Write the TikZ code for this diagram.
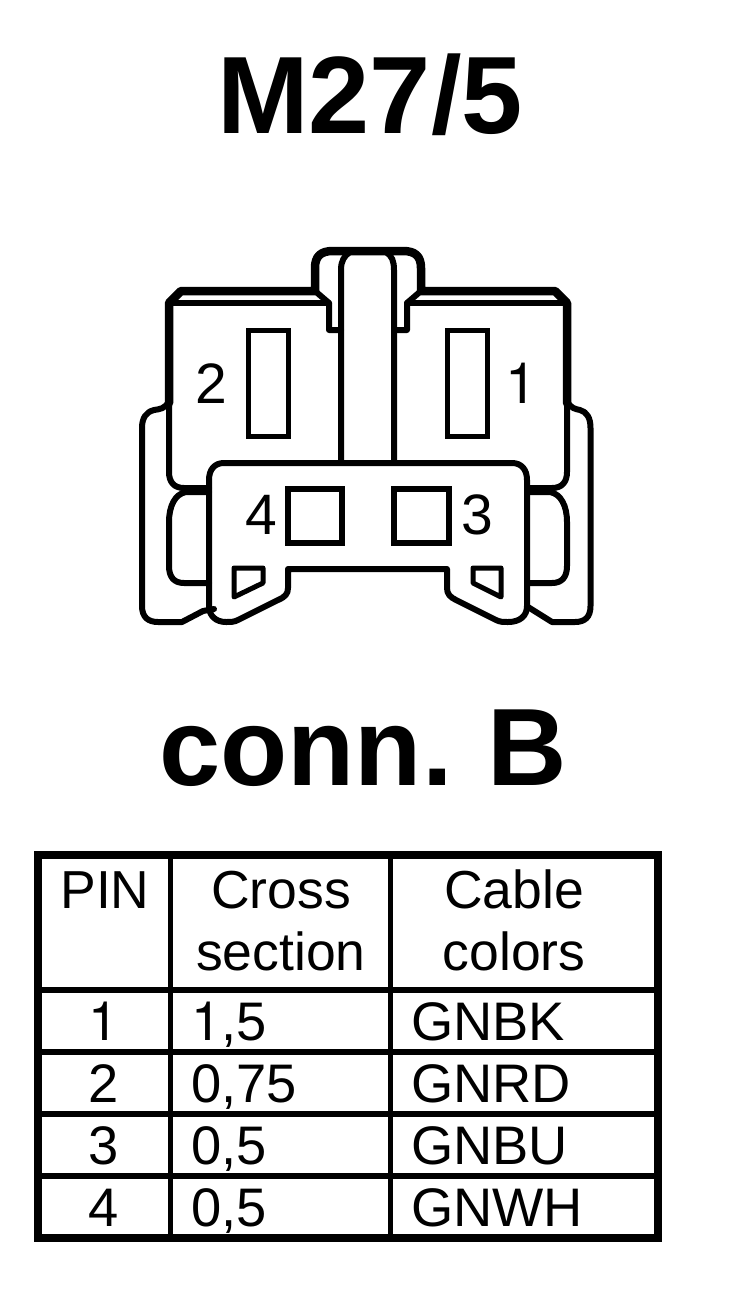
\documentclass[tikz,border=0pt]{standalone}
\usepackage{fontspec}
\setmainfont{Liberation Sans}
\newfontfamily\onefont{TeX Gyre Heros}
\tikzset{
  thickline/.style={line width=8.5pt,line join=round,line cap=round},
  medline/.style={line width=6pt,line join=round,line cap=round},
  big/.style={font=\fontsize{110}{110}\selectfont\bfseries,inner sep=0pt,anchor=base},
  pinlabel/.style={font=\fontsize{57}{57}\selectfont,inner sep=0pt,anchor=base},
  cell/.style={font=\fontsize{53.5}{53.5}\selectfont,inner sep=0pt,anchor=base},
  datacell/.style={font=\fontsize{54.3}{54.3}\selectfont,inner sep=0pt,anchor=base},
  cellleft/.style={datacell,anchor=base west},
  contact/.style={line width=5pt,line join=miter},
  window/.style={line width=5.8pt,line join=miter},
  gridline/.style={line width=6pt},
}
\begin{document}
\begin{tikzpicture}[x=1pt,y=-1pt]
\useasboundingbox (0,0) rectangle (736,1298);
\fill[white] (0,0) rectangle (736,1298);
\node[big] (title) at (370,133) {M27/5};
\node[big] (conn) at (363,785) {conn.\hspace{-6pt} B};
% upper bodies
\draw[thickline] (169,403) -- (169,303) -- (181,291) -- (315,291) -- (315,268) .. controls (315,256) and (321,251) .. (333,251) -- (403,251) .. controls (415,251) and (421,256) .. (421,268) -- (421,291) -- (555,291) -- (567,303) -- (567,403);
\draw[medline] (169,303) -- (329,303);
\draw[medline] (407,303) -- (567,303);
\draw[medline] (315,291) -- (329,303) -- (329,330) -- (341,330);
\draw[medline] (421,291) -- (407,303) -- (407,330) -- (394,330);
\draw[medline] (350,252) .. controls (344,256) and (341,261) .. (341,270) -- (341,462);
\draw[medline] (386,252) .. controls (392,256) and (394,261) .. (394,270) -- (394,462);
\draw[medline] (169,400) -- (169,472) .. controls (169,482) and (174,488) .. (184,488) -- (209,488);
\draw[medline] (567,400) -- (567,472) .. controls (567,482) and (562,488) .. (552,488) -- (527,488);
% side lugs
\draw[medline] (209,492) -- (186,492) .. controls (175,494) and (169,506) .. (169,522) -- (169,566) .. controls (169,577) and (174,583) .. (184,583) -- (209,583);
\draw[medline] (527,492) -- (550,492) .. controls (561,494) and (567,506) .. (567,522) -- (567,566) .. controls (567,577) and (562,583) .. (552,583) -- (527,583);
% outer clips
\draw[medline] (169,401) .. controls (165,409) and (160,409) .. (154,410) .. controls (146,412) and (142,418) .. (142,428) -- (142,606) .. controls (142,617) and (148,622) .. (158,622) -- (182,622) -- (203,611) -- (214,609);
\draw[medline] (567,401) .. controls (571,409) and (576,409) .. (580,410) .. controls (587,412) and (590.5,418) .. (590.5,428) -- (590.5,606) .. controls (590.5,617) and (585,622) .. (575,622) -- (552,622) -- (528,607);
% front body
\draw[medline] (447,569) -- (447,588) .. controls (447,594) and (450,597) .. (456,600) -- (496,620) .. controls (500,622) and (503,622) .. (508,622) .. controls (520,622) and (527,616) .. (527,606) -- (527,480) .. controls (527,469) and (521,463) .. (512,463) -- (224,463) .. controls (215,463) and (209,469) .. (209,480) -- (209,606) .. controls (209,616) and (216,622) .. (226,622) .. controls (231,622) and (234,622) .. (238,620) -- (278,600) .. controls (285,597) and (288,594) .. (288,588) -- (288,569) -- cycle;
% contacts
\draw[contact] (248.7,330.3) rectangle (288.7,436);
\draw[contact] (447,330.3) rectangle (487,436);
\draw[window] (288,489) rectangle (342,543);
\draw[window] (394,489) rectangle (449,543);
\draw[line width=5pt,line join=round] (234,568) -- (263,568) -- (263,583) -- (234,597) -- cycle;
\draw[line width=5pt,line join=round] (473,568) -- (501,568) -- (501,597) -- (473,583) -- cycle;
\node[pinlabel] (p2) at (211,403) {2};
\node[pinlabel] (p1) at (521,403) {\onefont 1};
\node[pinlabel] (p4) at (261,534) {4};
\node[pinlabel] (p3) at (477,534) {3};
% table
\draw[line width=7.7pt] (37.8,855) rectangle (658,1238);
\draw[line width=5.2pt] (170.5,855) -- (170.5,1238);
\draw[line width=5.2pt] (390.5,855) -- (390.5,1238);
\draw[gridline] (37.8,989.7) -- (658,989.7);
\draw[gridline] (37.8,1052) -- (658,1052);
\draw[gridline] (37.8,1113.7) -- (658,1113.7);
\draw[gridline] (37.8,1176) -- (658,1176);
\node[cell] (hpin) at (105,908) {PIN};
\node[cell] (hcross) at (281,908) {Cross};
\node[cell] (hsect) at (281,970) {section};
\node[cell] (hcable) at (514,908) {Cable};
\node[cell] (hcol) at (514,970) {colors};
\node[datacell] (r1a) at (104,1040) {\onefont 1};
\node[datacell] (r2a) at (104,1102) {2};
\node[datacell] (r3a) at (104,1164) {3};
\node[datacell] (r4a) at (104,1226) {4};
\node[cellleft] (r1b) at (191,1040) {{\onefont 1},5};
\node[cellleft] (r2b) at (191,1102) {0,75};
\node[cellleft] (r3b) at (191,1164) {0,5};
\node[cellleft] (r4b) at (191,1226) {0,5};
\node[cellleft] (r1c) at (411,1040) {GNBK};
\node[cellleft] (r2c) at (411,1102) {GNRD};
\node[cellleft] (r3c) at (411,1164) {GNBU};
\node[cellleft] (r4c) at (411,1226) {GNWH};
\end{tikzpicture}
\end{document}
